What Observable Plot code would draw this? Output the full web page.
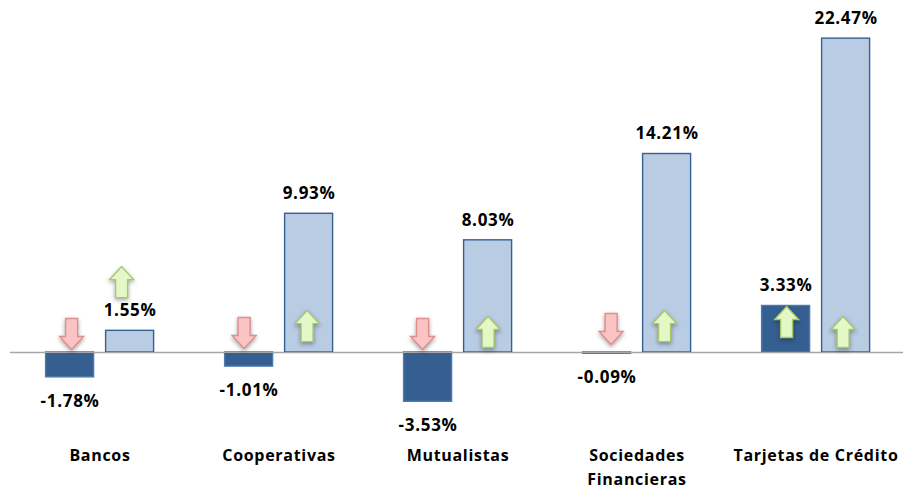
<!DOCTYPE html>
<html><head><meta charset="utf-8">
<script src="https://cdn.jsdelivr.net/npm/d3@7"></script>
<script src="https://cdn.jsdelivr.net/npm/@observablehq/plot@0.6"></script>
<style>html,body{margin:0;padding:0;background:#fff}svg{display:block}</style>
</head><body><div id="chart"></div>
<script>
const categories = ["Bancos","Cooperativas","Mutualistas","Sociedades Financieras","Tarjetas de Crédito"];
const seriesNames = ["A","B"];
const valuesA = [-1.78,-1.01,-3.53,-0.09,3.33];
const valuesB = [1.55,9.93,8.03,14.21,22.47];
// level (in % units) at which each arrow's centre sits
const arrowLevelsA = [1.36,1.43,1.36,1.72,2.15];
const arrowLevelsB = [5.0,1.85,1.43,1.85,1.43];
const arrowNudgeA = [1.5,-5,-5.5,4,0.5];
const arrowNudgeB = [-8.5,-2,0,-2.5,-3];

const bars = categories.flatMap((c,i)=>[
  {category:c,series:"A",value:valuesA[i],level:arrowLevelsA[i],nudge:arrowNudgeA[i]},
  {category:c,series:"B",value:valuesB[i],level:arrowLevelsB[i],nudge:arrowNudgeB[i]}
]);
const fontFamily = "'Open Sans', sans-serif";
const arrowUp = {draw(c){c.moveTo(0,-16);c.lineTo(12,-3);c.lineTo(6,-3);c.lineTo(6,15);c.lineTo(-6,15);c.lineTo(-6,-3);c.lineTo(-12,-3);c.closePath();}};
const arrowDown = {draw(c){c.moveTo(0,16);c.lineTo(12,3);c.lineTo(6,3);c.lineTo(6,-15);c.lineTo(-6,-15);c.lineTo(-6,3);c.lineTo(-12,3);c.closePath();}};
const arrowMarks = bars.map(d=>Plot.dot([d],{
  x:"series",y:"level",fx:"category",dx:d.nudge,r:10,
  symbol:d.value>0?arrowUp:arrowDown,
  fill:d.value>0?"#E4F8C6":"#FBC4C4",
  stroke:d.value>0?"#A8C86E":"#E08E8E",
  strokeWidth:1.4,
  imageFilter:"drop-shadow(0px 2px 2px rgba(0,0,0,0.35))"
}));
const chart = Plot.plot({
  width:903,height:489,
  marginTop:0,marginBottom:50,marginLeft:9.4,marginRight:-2.6,
  style:{fontFamily,background:"#fff",letterSpacing:"0.7px"},
  fx:{domain:categories,padding:0,label:null},
  x:{domain:seriesNames,paddingInner:0.2,paddingOuter:0.57,axis:null},
  y:{domain:[-6.23,25.2],axis:null},
  marks:[
    Plot.ruleY([0],{stroke:"#A6A6A6",strokeWidth:1.6}),
    Plot.barY(bars,{fx:"category",x:"series",y:"value",
      fill:d=>d.series==="A"?"#365F91":"#B8CCE4",
      stroke:d=>d.series==="A"?"#4A7AB0":"#366092",strokeWidth:1.4}),
    Plot.ruleY([0],{stroke:"#A6A6A6",strokeWidth:1.2}),
    arrowMarks,
    Plot.text(bars.filter(d=>d.value>=0),{fx:"category",x:"series",y:"value",text:d=>d.value.toFixed(2)+"%",dy:-20,fontSize:17,fontWeight:"bold",fill:"#000"}),
    Plot.text(bars.filter(d=>d.value<0),{fx:"category",x:"series",y:"value",text:d=>d.value.toFixed(2)+"%",dy:24,fontSize:17,fontWeight:"bold",fill:"#000"}),
    Plot.axisFx({anchor:"bottom",tickSize:0,tickPadding:4,fontSize:16,fontWeight:"bold",fill:"#000",lineHeight:1.5,label:null,
      tickFormat:d=>d==="Sociedades Financieras"?"Sociedades\nFinancieras":d})
  ]
});
document.getElementById("chart").append(chart);
</script></body></html>
